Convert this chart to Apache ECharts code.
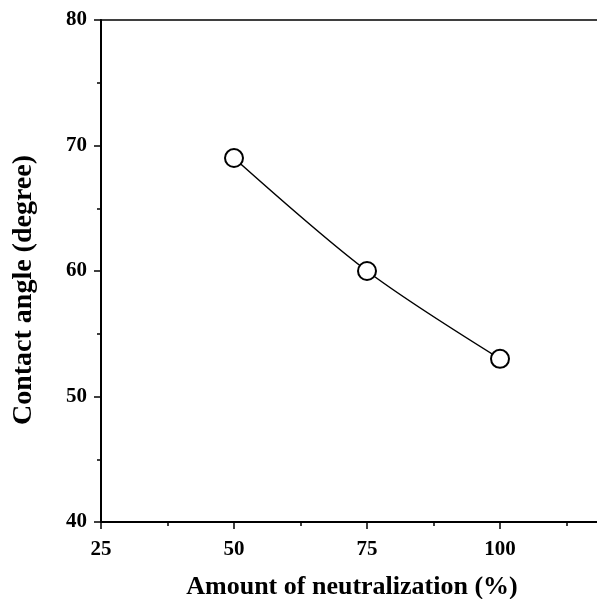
<!DOCTYPE html>
<html>
<head>
<meta charset="utf-8">
<script src="https://cdn.jsdelivr.net/npm/echarts@6/dist/echarts.min.js"></script>
<style>
html,body{margin:0;padding:0;background:#fff;overflow:hidden;width:597px;height:599px;}
#chart{width:640px;height:599px;}
</style>
</head>
<body>
<div id="chart"></div>
<script>
const neutralization = [50, 75, 100];
const contactAngle = [69, 60, 53];
const xTicks = [25, 50, 75, 100];
const yTicks = [40, 50, 60, 70, 80];
const xTitle = 'Amount of neutralization (%)';
const yTitle = 'Contact angle (degree)';

const FONT = '"Liberation Serif", "Times New Roman", serif';
const chart = echarts.init(document.getElementById('chart'), null, {renderer: 'canvas'});
chart.setOption({
  animation: false,
  backgroundColor: '#fff',
  grid: {left: 101, top: 20, right: 7, bottom: 77, show: false, containLabel: false, outerBoundsMode: 'none'},
  xAxis: [{
    type: 'value', min: 25, max: 125, interval: 25,
    axisLine: {lineStyle: {color: '#000', width: 2}},
    axisTick: {show: true, inside: false, length: 7, lineStyle: {color: '#000', width: 1.5}},
    minorTick: {show: true, splitNumber: 2, length: 4, lineStyle: {color: '#000', width: 1.5}},
    splitLine: {show: false},
    axisLabel: {
      color: '#000', fontFamily: FONT, fontWeight: 'bold', fontSize: 21, margin: 17,
      formatter: v => xTicks.includes(v) ? String(v) : ''
    },
    name: xTitle, nameLocation: 'middle', nameGap: 52,
    nameTextStyle: {color: '#000', fontFamily: FONT, fontWeight: 'bold', fontSize: 26, padding: [0, 30, 0, 0]}
  }, {
    type: 'value', position: 'top', min: 25, max: 125, interval: 25,
    axisLine: {show: true, lineStyle: {color: '#000', width: 1.5}},
    axisTick: {show: false}, axisLabel: {show: false}, splitLine: {show: false}
  }],
  yAxis: {
    type: 'value', min: 40, max: 80, interval: 10,
    axisLine: {lineStyle: {color: '#000', width: 2}},
    axisTick: {show: true, inside: false, length: 7, lineStyle: {color: '#000', width: 1.5}},
    minorTick: {show: true, splitNumber: 2, length: 4, lineStyle: {color: '#000', width: 1.5}},
    splitLine: {show: false},
    axisLabel: {
      color: '#000', fontFamily: FONT, fontWeight: 'bold', fontSize: 21, margin: 14,
      formatter: v => yTicks.includes(v) ? String(v) : ''
    },
    name: yTitle, nameLocation: 'middle', nameGap: 63, nameRotate: 90,
    nameTextStyle: {color: '#000', fontFamily: FONT, fontWeight: 'bold', fontSize: 28, padding: [0, 38, 0, 0]}
  },
  series: [{
    type: 'line',
    xAxisIndex: 0,
    data: neutralization.map((x, i) => [x, contactAngle[i]]),
    smooth: 0.3,
    symbol: 'circle', symbolSize: 18,
    lineStyle: {color: '#000', width: 1.5},
    itemStyle: {color: '#fff', borderColor: '#000', borderWidth: 2},
    clip: false
  }]
});
</script>
</body>
</html>
